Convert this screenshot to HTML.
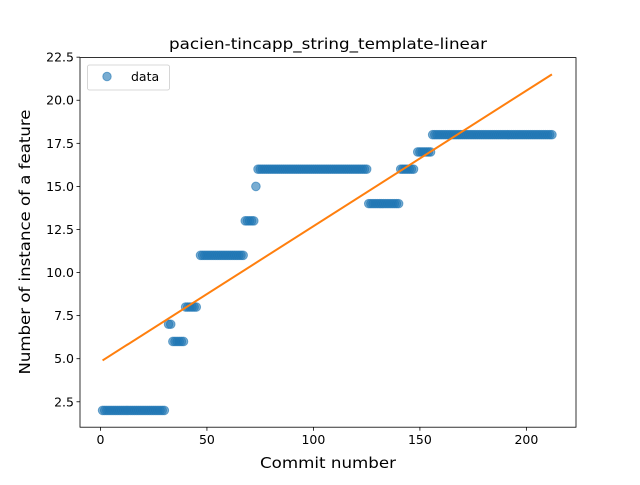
<!DOCTYPE html>
<html><head><meta charset="utf-8"><style>
body{margin:0;background:#fff}
svg text{font-family:"DejaVu Sans","Liberation Sans",sans-serif;fill:#000}
</style></head><body>
<svg id="chart" width="640" height="480" xmlns="http://www.w3.org/2000/svg">
<rect width="640" height="480" fill="#fff"/>
<text x="328" y="49" text-anchor="middle" font-size="15" textLength="318" lengthAdjust="spacingAndGlyphs">pacien-tincapp_string_template-linear</text>
<g id="plot"></g>
<g id="xticks"></g>
<g id="yticks"></g>
<text x="328" y="468" text-anchor="middle" font-size="15.5" textLength="136" lengthAdjust="spacingAndGlyphs">Commit number</text>
<text transform="translate(30,242) rotate(-90)" text-anchor="middle" font-size="15.5" textLength="265" lengthAdjust="spacingAndGlyphs">Number of instance of a feature</text>
<rect x="80" y="57.6" width="496" height="369.6" fill="none" stroke="#000" stroke-width="0.8"/>
<g>
<rect x="87.5" y="65" width="82" height="25" rx="2" fill="#fff" fill-opacity="0.8" stroke="#ccc" stroke-width="0.8"/>
<circle cx="107" cy="76.5" r="4.2" fill="#1f77b4" fill-opacity="0.6" stroke="#1f77b4" stroke-opacity="0.6"/>
<text x="131" y="81" font-size="12.5">data</text>
</g>
</svg>
<script>
const segStart=[1,32,34,40,47,68,73,74,126,141,149,156];
const segEnd=[30,33,39,45,67,72,73,125,140,147,155,212];
const segValue=[2,7,6,8,11,13,15,16,14,16,17,18];
const fitX=[1,212];
const fitY=[4.9,21.5];
const xTicks=[0,50,100,150,200];
const yTicks=[2.5,5.0,7.5,10.0,12.5,15.0,17.5,20.0,22.5];
const NS="http://www.w3.org/2000/svg";
const X0=-9.6,X1=223.3,Y0=1.025,Y1=22.475;
const L=80,R=576,T=57.6,B=427.2;
function sx(v){return L+(v-X0)/(X1-X0)*(R-L);}
function sy(v){return B-(v-Y0)/(Y1-Y0)*(B-T);}
function mk(t,a,p){const e=document.createElementNS(NS,t);for(const k in a)e.setAttribute(k,a[k]);p.appendChild(e);return e;}
const plot=document.getElementById('plot');
for(let s=0;s<segStart.length;s++){for(let x=segStart[s];x<=segEnd[s];x++){
const c=mk('circle',{cx:sx(x),cy:sy(segValue[s]),r:4.3,fill:'#1f77b4','fill-opacity':0.6,stroke:'#1f77b4','stroke-opacity':0.6},plot);


}}
const ln=mk('line',{x1:sx(fitX[0]),y1:sy(fitY[0]),x2:sx(fitX[1]),y2:sy(fitY[1]),stroke:'#ff7f0e','stroke-width':2},plot);


const xg=document.getElementById('xticks');
xTicks.forEach(v=>{const x=sx(v);
const t=mk('line',{x1:x,x2:x,y1:B,y2:B+3.5,stroke:'#000','stroke-width':0.8},xg);


const tx=mk('text',{x:x,y:B+17,'text-anchor':'middle','font-size':12.5},xg);tx.textContent=v;


});
const yg=document.getElementById('yticks');
yTicks.forEach(v=>{const y=sy(v);
const t=mk('line',{x1:L-3.5,x2:L,y1:y,y2:y,stroke:'#000','stroke-width':0.8},yg);


const tx=mk('text',{x:L-6,y:y+4.5,'text-anchor':'end','font-size':12.5},yg);tx.textContent=v.toFixed(1);


});
</script>
</body></html>
